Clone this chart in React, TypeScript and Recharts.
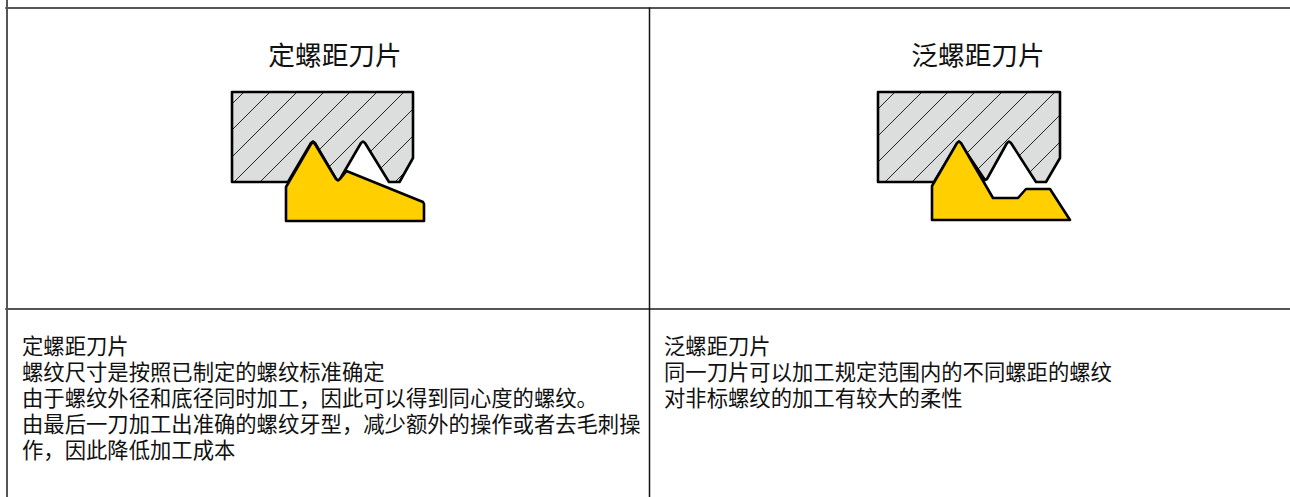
import React from "react";
import { ScatterChart, Scatter, XAxis, YAxis } from "recharts";

type P = { x: number; y: number };
const pts = (a: number[][]): P[] => a.map(([x, y]) => ({ x, y }));

const gridH1 = [[6, 8], [1290, 8]];
const gridH2 = [[6, 309], [1290, 309]];
const gridV1 = [[7, 0], [7, 497]];
const gridV2 = [[649.5, 8], [649.5, 497]];

const leftBody = [[232, 92], [413, 92], [413, 158], [399.5, 182], [389, 182], [365, 143], [363, 141.5], [361, 143], [340, 179], [338, 180.5], [336, 179], [315, 143], [313, 141.5], [311, 143], [288, 182], [232, 182], [232, 92]];
const leftGap = [[336, 184], [336, 179], [338, 180.5], [340, 179], [361, 143], [363, 141.5], [365, 143], [389, 182], [399.5, 182], [413, 158], [416, 158], [416, 184], [336, 184]];
const leftTool = [[286, 221], [286, 187], [311, 144], [313, 142], [315, 144], [336, 179], [338, 180.5], [340, 179], [346.5, 171], [423, 202], [424, 204], [424, 221], [286, 221]];
const leftHatch = [
  [[244, 92], [232, 104]], [[270, 92], [232, 130]], [[297, 92], [232, 157]], [[324, 92], [234, 182]],
  [[350, 92], [260, 182]], [[377, 92], [287, 182]], [[404, 92], [314, 182]], [[413, 109], [340, 182]],
  [[413, 136], [367, 182]], [[410, 167], [395, 182]],
];

const rightBody = [[878, 92], [1060, 92], [1060, 158], [1046, 182], [1036, 182], [1011, 143], [1009, 141.5], [1007, 143], [987, 179], [985, 180], [959, 141.5], [934, 182], [878, 182], [878, 92]];
const rightGap = [[983, 184], [985, 180], [987, 179], [1007, 143], [1009, 141.5], [1011, 143], [1036, 182], [1046, 182], [1060, 158], [1063, 158], [1063, 184], [983, 184]];
const rightTool = [[932, 220], [932, 186], [957, 143], [959, 141.5], [961, 143], [993, 198], [1018, 198], [1026, 189], [1050, 189], [1070, 220], [932, 220]];
const rightHatch = [
  [[895, 92], [878, 109]], [[922, 92], [878, 136]], [[948, 92], [878, 162]], [[975, 92], [885, 182]],
  [[1002, 92], [912, 182]], [[1028, 92], [938, 182]], [[1055, 92], [965, 182]], [[1060, 115], [993, 182]],
  [[1060, 142], [1020, 182]],
];

const titles = [
  { x: 335, y: 53, text: "定螺距刀片" },
  { x: 978, y: 53, text: "泛螺距刀片" },
];
const leftLines = [
  "定螺距刀片",
  "螺纹尺寸是按照已制定的螺纹标准确定",
  "由于螺纹外径和底径同时加工\uFF0C因此可以得到同心度的螺纹。",
  "由最后一刀加工出准确的螺纹牙型\uFF0C减少额外的操作或者去毛刺操",
  "作\uFF0C因此降低加工成本",
];
const rightLines = ["泛螺距刀片", "同一刀片可以加工规定范围内的不同螺距的螺纹", "对非标螺纹的加工有较大的柔性"];
const bodyYs = [344, 370, 396, 422, 448];
const leftTexts = leftLines.map((text, i) => ({ x: 22, y: bodyYs[i], text }));
const rightTexts = rightLines.map((text, i) => ({ x: 664, y: bodyYs[i], text }));

const FONT = '"Noto Sans CJK SC", sans-serif';
const none = () => <g />;

const shape = (a: number[][], fill: string, stroke: string, strokeWidth: number, key: string) => (
  <Scatter
    key={key}
    data={pts(a)}
    shape={none}
    isAnimationActive={false}
    line={{ fill, stroke, strokeWidth, strokeLinejoin: "round", strokeLinecap: "round" } as any}
  />
);

const textShape = (size: number, anchor: "start" | "middle") => (p: any) => (
  <text x={p.cx} y={p.cy} fontFamily={FONT} fontSize={size} textAnchor={anchor} dominantBaseline="central" fill="#111">
    {p.payload.text}
  </text>
);

export default function App() {
  return (
    <div style={{ position: "absolute", left: 0, top: 0, width: 1290, height: 497, overflow: "hidden", background: "#fff" }}>
      <ScatterChart width={1290} height={497} margin={{ top: 0, right: 0, bottom: 0, left: 0 }}>
        <XAxis type="number" dataKey="x" domain={[0, 1290]} hide allowDataOverflow />
        <YAxis type="number" dataKey="y" domain={[0, 497]} reversed hide allowDataOverflow />
        {shape(gridH1, "none", "#555", 2, "h1")}
        {shape(gridH2, "none", "#555", 2, "h2")}
        {shape(gridV1, "none", "#555", 2, "v1")}
        {shape(gridV2, "none", "#111", 1.5, "v2")}

        {shape(leftBody, "#dcdedd", "none", 0, "lb")}
        {leftHatch.map((h, i) => shape(h, "none", "#222", 1, "lh" + i))}
        {shape(leftGap, "#fff", "none", 0, "lg")}
        {shape(leftBody, "none", "#000", 2.6, "lo")}
        {shape(leftTool, "#ffcf00", "#000", 2.6, "lt")}

        {shape(rightBody, "#dcdedd", "none", 0, "rb")}
        {rightHatch.map((h, i) => shape(h, "none", "#222", 1, "rh" + i))}
        {shape(rightGap, "#fff", "none", 0, "rg")}
        {shape(rightBody, "none", "#000", 2.6, "ro")}
        {shape(rightTool, "#ffcf00", "#000", 2.6, "rt")}

        <Scatter data={titles} shape={textShape(26.67, "middle")} isAnimationActive={false} />
        <Scatter data={leftTexts} shape={textShape(21.33, "start")} isAnimationActive={false} />
        <Scatter data={rightTexts} shape={textShape(21.33, "start")} isAnimationActive={false} />
      </ScatterChart>
    </div>
  );
}
